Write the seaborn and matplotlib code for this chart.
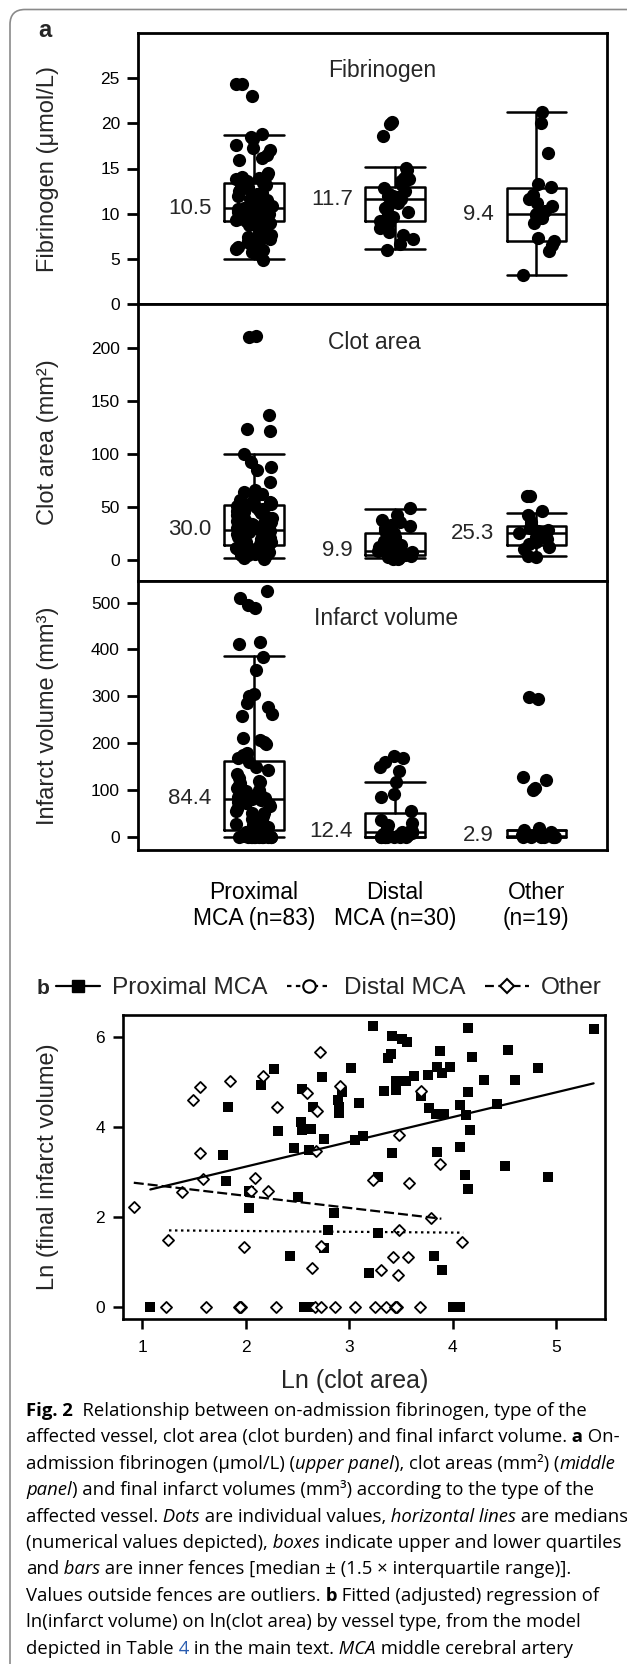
import numpy as np
import pandas as pd
import matplotlib
matplotlib.use("Agg")
import matplotlib.pyplot as plt
import seaborn as sns
from matplotlib.lines import Line2D
from matplotlib.patches import FancyBboxPatch

np.random.seed(11)

# ------------------------ DATA ------------------------
groups = ["Proximal", "Distal", "Other"]
group_labels = ["Proximal\nMCA (n=83)", "Distal\nMCA (n=30)", "Other\n(n=19)"]

# fibrinogen (umol/L)
fib_prox = [24.4, 24.3, 23.0, 18.8, 18.5, 18.3, 17.6, 17.3, 17.0, 16.5, 16.2, 15.9,
            14.5, 14.3, 14.1, 14.0, 13.8, 13.5, 13.6, 13.5, 13.4,
            13.2, 13.0, 12.8, 12.6, 12.5, 12.3, 12.2, 12.0, 11.8, 11.6, 11.5, 11.3, 11.2,
            11.0, 10.9, 10.8, 10.7, 10.6, 10.6, 10.5, 10.5,
            10.4, 10.3, 10.2, 10.1, 10.0, 10.0, 9.9, 9.8, 9.7, 9.6, 9.6, 9.5, 9.4, 9.4,
            9.3, 9.3, 9.2, 9.2, 9.1, 9.0,
            8.9, 8.7, 8.5, 8.3, 8.2, 8.0, 7.8, 7.6, 7.4, 7.3, 7.2, 7.0, 6.8, 6.7, 6.5,
            6.3, 6.1, 6.0, 5.8, 5.5, 4.9]
fib_dist = [20.1, 19.9, 18.6, 15.1, 14.8, 14.0, 13.8, 13.6, 13.2, 12.8, 12.5, 12.2, 12.0,
            12.0, 11.8, 11.6, 11.2, 10.8, 10.6, 10.2, 10.0, 9.6, 9.2, 8.8, 8.4, 8.0, 7.6,
            7.2, 6.6, 6.0]
fib_other = [21.3, 20.0, 16.7, 13.3, 13.0, 12.1, 11.6, 11.2, 10.8, 10.3, 10.0, 9.8, 9.5,
             9.0, 7.3, 7.0, 6.5, 5.9, 3.2]
fib_med = [10.6, 11.6, 9.95]
fib_q1 = [9.2, 9.2, 7.0]
fib_q3 = [13.4, 12.9, 12.8]
fib_lo = [5.0, 6.1, 3.2]
fib_hi = [18.75, 15.2, 21.3]
fib_med_labels = ["10.5", "11.7", "9.4"]

# clot area (mm2)
clot_prox = [212, 211, 137, 124, 122, 100, 93, 88, 85, 74, 66, 64, 62, 60, 58, 57, 56, 55,
             54, 53, 52.5,
             51, 50, 48, 47, 46, 45, 44, 42, 41, 40, 38, 37, 36, 35, 34, 33, 32, 31, 30, 29,
             28.5,
             28, 27, 26, 25, 24, 23, 22, 21, 20, 20, 19, 18, 18, 17, 17, 16, 16, 15, 15, 14.5,
             14, 13, 12, 12, 11, 10, 10, 9, 9, 8, 8, 7, 7, 6, 6, 5, 5, 4, 3, 2, 1]
clot_dist = [49, 42, 38, 36, 33, 32, 30, 27, 25, 22, 18, 15, 14, 13, 12, 10, 9, 9, 8, 8,
             7, 6, 6, 5, 5, 4, 3, 2, 1, 1]
clot_other = [60, 60, 46, 42, 36, 33, 30, 28, 27, 25, 24, 22, 20, 17, 15, 12, 10, 4, 3]
clot_med = [28.4, 8.8, 25.2]
clot_q1 = [14.2, 4.7, 14.2]
clot_q3 = [52.0, 25.2, 32.1]
clot_lo = [1.6, 1.6, 3.8]
clot_hi = [99.9, 47.9, 44.1]
clot_med_labels = ["30.0", "9.9", "25.3"]

# infarct volume (mm3)
inf_prox = [525, 510, 495, 488, 415, 412, 383, 357, 305, 300, 285, 278, 262, 258, 212, 206,
            203, 198, 180, 175, 168,
            160, 150, 142, 135, 125, 120, 118, 115, 110, 105, 100, 98, 95, 92, 90, 88, 87,
            85, 84, 82, 81,
            80, 78, 75, 72, 70, 65, 60, 55, 52, 50, 45, 40, 38, 35, 30, 28, 25, 22, 20, 18,
            15, 12, 10, 8, 6, 4, 3, 2, 1, 0, 0, 0, 0, 0, 0, 0, 0, 0, 0, 0, 0]
inf_dist = [172, 168, 160, 150, 140, 118, 92, 85, 55, 35, 30, 25, 20, 15, 12, 10, 8, 6, 5,
            3, 2, 1, 0, 0, 0, 0, 0, 0, 0, 0]
inf_other = [298, 295, 128, 122, 105, 100, 20, 15, 10, 5, 3, 2, 0, 0, 0, 0, 0, 0, 0]
inf_med = [81.2, 10.7, 2.9]
inf_q1 = [15.7, 0.0, 0.0]
inf_q3 = [162, 51.3, 15.7]
inf_lo = [0.0, 0.0, 0.0]
inf_hi = [386, 117, 15.7]
inf_med_labels = ["84.4", "12.4", "2.9"]

# panel b: ln(clot area) vs ln(final infarct volume)
prox_ln_clot = [3.23, 3.41, 3.51, 3.56, 4.15, 5.36, 3.88, 3.40, 3.37, 4.19, 4.53, 4.82, 3.02,
                2.27, 2.15, 2.74, 2.54, 2.93, 2.89, 2.90, 2.90, 3.09, 3.34, 3.45, 3.45, 3.55,
                3.63, 3.76, 3.85, 3.90, 3.97, 3.69, 3.77, 3.84, 3.92, 4.07, 4.13, 4.15, 4.30,
                4.60, 4.43, 2.65, 1.83, 2.31, 2.53, 2.54, 2.63, 2.76, 3.06, 3.13, 2.47, 2.61,
                1.78, 3.41, 3.85, 4.07, 4.17, 4.50,
                1.81, 2.03, 2.03, 2.51, 2.85, 2.80, 3.28, 2.76, 2.43, 3.19, 3.82, 3.90, 3.28,
                4.12, 4.15, 4.92, 1.08, 2.56, 2.61, 4.00, 4.07,
                2.90, 3.45, 2.58, 4.03]
prox_ln_inf = [6.26, 6.03, 5.96, 5.89, 6.20, 6.19, 5.70, 5.63, 5.54, 5.57, 5.72, 5.33, 5.32,
               5.29, 4.94, 5.12, 4.86, 4.78, 4.61, 4.46, 4.32, 4.54, 4.82, 5.03, 4.83, 5.03,
               5.15, 5.17, 5.35, 5.20, 5.35, 4.69, 4.43, 4.29, 4.29, 4.49, 4.28, 4.78, 5.06,
               5.06, 4.52, 4.46, 4.46, 3.92, 4.13, 3.94, 3.97, 3.74, 3.71, 3.80, 3.55, 3.50,
               3.39, 3.44, 3.46, 3.56, 3.94, 3.14,
               2.81, 2.59, 2.20, 2.45, 2.09, 1.71, 1.65, 1.32, 1.15, 0.76, 1.13, 0.82, 2.89,
               2.94, 2.63, 2.89, 0, 0, 0, 0, 0,
               4.38, 4.90, 0, 0]
dist_ln_clot = [2.17, 2.30, 2.59, 2.69, 2.91, 3.48, 2.68, 3.88, 1.25, 2.09, 2.22, 1.98, 2.73,
                3.48, 4.09, 3.42, 3.57, 3.47,
                1.23, 1.94, 1.96, 2.67, 2.73, 2.86, 3.06, 3.36, 3.44, 3.46, 1.95, 3.45]
dist_ln_inf = [5.14, 4.46, 4.77, 4.37, 4.92, 3.83, 3.48, 3.18, 1.50, 2.87, 2.59, 1.33, 1.37,
               1.71, 1.46, 1.12, 1.12, 0.71,
               0, 0, 0, 0, 0, 0, 0, 0, 0, 0, 0, 0]
other_ln_clot = [0.92, 3.79, 1.49, 1.56, 1.85, 2.72, 3.69, 1.56, 1.39, 1.59, 2.05, 3.23, 3.58,
                 2.64, 3.31, 1.62, 2.29, 3.25, 3.68]
other_ln_inf = [2.22, 1.98, 4.61, 4.91, 5.04, 5.67, 4.81, 3.43, 2.56, 2.86, 2.59, 2.83, 2.77,
                0.87, 0.83, 0, 0, 0, 0]

# fitted regression lines (end points)
prox_fit_x = [1.08, 5.36]
prox_fit_y = [2.62, 4.98]
dist_fit_x = [1.26, 4.10]
dist_fit_y = [1.71, 1.66]
other_fit_x = [0.92, 3.89]
other_fit_y = [2.77, 1.97]

# ------------------------ STYLE ------------------------
sns.set_theme(style="ticks")
plt.rcParams["font.family"] = ["Liberation Sans", "DejaVu Sans"]
plt.rcParams["axes.edgecolor"] = "black"
plt.rcParams["xtick.color"] = "black"
plt.rcParams["ytick.color"] = "black"

W, H = 627, 1664
fig = plt.figure(figsize=(W / 100, H / 100), dpi=100)


def fig_box(x0, y0, x1, y1):
    # pixel box (top-left origin) -> figure fraction rect
    return [x0 / W, 1 - y1 / H, (x1 - x0) / W, (y1 - y0) / H]


# light rounded frame round the figure
frame = FancyBboxPatch((0.10, -0.5), 8.0, 16.545 + 0.5,
                       boxstyle="round,pad=0,rounding_size=0.15",
                       transform=fig.dpi_scale_trans, fill=False,
                       edgecolor="#8a8a8a", linewidth=1.2)
fig.patches.append(frame)


# ------------------------ PANEL A ------------------------
def box_strip(ax, values, med, q1, q3, lo, hi, med_labels, ylim, yticks, title, title_x, ylabel):
    df = pd.DataFrame({
        "vessel": np.repeat(groups, [len(v) for v in values]),
        "value": np.concatenate(values),
    })
    sns.stripplot(data=df, x="vessel", y="value", order=groups, color="black",
                  size=9.5, jitter=0.13, linewidth=0, ax=ax, zorder=3)
    stats = [dict(med=med[i], q1=q1[i], q3=q3[i], whislo=lo[i], whishi=hi[i], fliers=[])
             for i in range(3)]
    line = dict(color="black", linewidth=1.8)
    ax.bxp(stats, positions=[0, 1, 2], widths=0.42, capwidths=0.42, showfliers=False,
           boxprops=line, whiskerprops=line, capprops=line, medianprops=line,
           manage_ticks=False, zorder=2)
    for i in range(3):
        ax.text(i - 0.30, med[i], med_labels[i], ha="right", va="center", fontsize=16)
    ax.text(title_x, 0.86, title, transform=ax.transAxes, ha="center", va="center",
            fontsize=16.5)
    ax.text(-0.192, 0.5, ylabel, transform=ax.transAxes, rotation=90,
            ha="center", va="center", fontsize=17)
    ax.set_xlabel("")
    ax.set_ylabel("")
    ax.set_xlim(-0.82, 2.50)
    ax.set_ylim(ylim)
    ax.set_yticks(yticks)
    ax.tick_params(axis="y", direction="out", length=8, width=2, labelsize=12.5, pad=5)
    ax.tick_params(axis="x", length=0)
    for s in ax.spines.values():
        s.set_visible(True)
        s.set_linewidth(2)


ax1 = fig.add_axes(fig_box(138, 33, 607, 304))
ax2 = fig.add_axes(fig_box(138, 304, 607, 581))
ax3 = fig.add_axes(fig_box(138, 581, 607, 850))

box_strip(ax1, [fib_prox, fib_dist, fib_other], fib_med, fib_q1, fib_q3, fib_lo, fib_hi,
          fib_med_labels, (0, 30), [0, 5, 10, 15, 20, 25], "Fibrinogen", 0.52,
          "Fibrinogen (μmol/L)")
box_strip(ax2, [clot_prox, clot_dist, clot_other], clot_med, clot_q1, clot_q3, clot_lo,
          clot_hi, clot_med_labels, (-20, 242), [0, 50, 100, 150, 200], "Clot area", 0.503,
          "Clot area (mm²)")
box_strip(ax3, [inf_prox, inf_dist, inf_other], inf_med, inf_q1, inf_q3, inf_lo, inf_hi,
          inf_med_labels, (-28, 546), [0, 100, 200, 300, 400, 500], "Infarct volume", 0.529,
          "Infarct volume (mm³)")

ax1.set_xticks([])
ax2.set_xticks([])
ax3.set_xticks([0, 1, 2])
ax3.set_xticklabels(group_labels, fontsize=16.5)
ax3.tick_params(axis="x", length=0, pad=22)

fig.text(38 / W, 1 - 37 / H, "a", fontsize=17, fontweight="bold", va="baseline")

# ------------------------ PANEL B ------------------------
axb = fig.add_axes(fig_box(123, 1015, 605, 1319))
sns.scatterplot(x=prox_ln_clot, y=prox_ln_inf, marker="s", color="black", s=56,
                linewidth=0, ax=axb, zorder=3)
sns.scatterplot(x=dist_ln_clot, y=dist_ln_inf, marker="D", color="white", edgecolor="black",
                s=32, linewidth=1.3, ax=axb, zorder=3)
sns.scatterplot(x=other_ln_clot, y=other_ln_inf, marker="D", color="white", edgecolor="black",
                s=32, linewidth=1.3, ax=axb, zorder=3)
axb.plot(prox_fit_x, prox_fit_y, color="black", linewidth=1.6, zorder=4)
axb.plot(dist_fit_x, dist_fit_y, color="black", linewidth=1.6, linestyle=(0, (1.1, 1.6)), zorder=4)
axb.plot(other_fit_x, other_fit_y, color="black", linewidth=1.6, linestyle=(0, (4.5, 1.8)), zorder=4)

axb.set_xlim(0.816, 5.47)
axb.set_ylim(-0.26, 6.5)
axb.set_xticks([1, 2, 3, 4, 5])
axb.set_yticks([0, 2, 4, 6])
axb.tick_params(axis="x", direction="out", length=7, width=1.8, labelsize=12.5, pad=8)
axb.tick_params(axis="y", direction="out", length=7, width=1.8, labelsize=12.5, pad=6)
for s in axb.spines.values():
    s.set_visible(True)
    s.set_linewidth(1.9)
axb.text(0.48, -0.205, "Ln (clot area)", transform=axb.transAxes, ha="center", va="center",
         fontsize=18)
axb.text(-0.155, 0.5, "Ln (final infarct volume)", transform=axb.transAxes, rotation=90,
         ha="center", va="center", fontsize=17)

handles = [
    Line2D([], [], color="black", linewidth=1.6, marker="s", markersize=8,
           markerfacecolor="black"),
    Line2D([], [], color="black", linewidth=1.6, linestyle=(0, (2, 2)), marker="o",
           markersize=9, markerfacecolor="white", markeredgewidth=1.5),
    Line2D([], [], color="black", linewidth=1.6, linestyle=(0, (4, 2)), marker="D",
           markersize=7.5, markerfacecolor="white", markeredgewidth=1.5),
]
fig.legend(handles, ["Proximal MCA", "Distal MCA", "Other"], loc="center left",
           bbox_to_anchor=(56 / W, 1 - 988 / H), ncol=3, frameon=False,
           prop={"family": "Liberation Sans", "size": 17.6}, handlelength=1.8,
           handletextpad=0.5, columnspacing=0.8, borderpad=0, borderaxespad=0)
fig.text(37 / W, 1 - 988 / H, "b", fontsize=15, fontweight="bold", va="center")

# ------------------------ CAPTION ------------------------
caption = [
    [("Fig. 2", "b"), ("  Relationship between on-admission fibrinogen, type of the", "n")],
    [("affected vessel, clot area (clot burden) and final infarct volume.", "n"), (" a", "b"),
     (" On-", "n")],
    [("admission fibrinogen (µmol/L) (", "n"), ("upper panel", "i"),
     ("), clot areas (mm²) (", "n"), ("middle", "i")],
    [("panel", "i"), (") and final infarct volumes (mm³) according to the type of the", "n")],
    [("affected vessel.", "n"), (" Dots", "i"), (" are individual values,", "n"),
     (" horizontal lines", "i"), (" are medians", "n")],
    [("(numerical values depicted),", "n"), (" boxes", "i"),
     (" indicate upper and lower quartiles", "n")],
    [("and", "n"), (" bars", "i"), (" are inner fences [median ± (1.5 × interquartile range)].", "n")],
    [("Values outside fences are outliers.", "n"), (" b", "b"),
     (" Fitted (adjusted) regression of", "n")],
    [("ln(infarct volume) on ln(clot area) by vessel type, from the model", "n")],
    [("depicted in Table", "n"), (" 4", "c"), (" in the main text.", "n"), (" MCA", "i"),
     (" middle cerebral artery", "n")],
]
styles = {
    "n": dict(),
    "b": dict(fontweight="bold"),
    "i": dict(fontstyle="italic"),
    "c": dict(color="#2a5db0"),
}
cax = fig.add_axes([0, 0, 1, 1])
cax.axis("off")
cap_size = 13.3
for k, parts in enumerate(caption):
    base = 1416 + 26.4 * k
    prev = None
    for txt, st in parts:
        kw = dict(fontsize=cap_size, family=["Open Sans", "DejaVu Sans"], color="black")
        kw.update(styles[st])
        if prev is None:
            prev = cax.text(26 / W, 1 - base / H, txt, transform=cax.transAxes,
                            ha="left", va="baseline", **kw)
        else:
            prev = cax.annotate(txt, xy=(1, 0), xycoords=prev, ha="left", va="bottom", **kw)

fig.savefig("out.png", dpi=100)
